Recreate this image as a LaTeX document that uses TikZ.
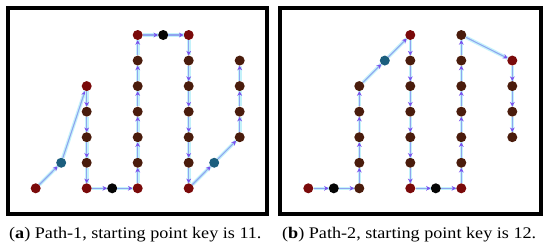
\documentclass[tikz,border=0pt]{standalone}
\usepackage{graphicx}
\usepackage{fontspec}
\setmainfont{Liberation Serif}
\usetikzlibrary{arrows.meta}
\definecolor{nred}{HTML}{7A0A0A}
\definecolor{nbrown}{HTML}{4A1C0C}
\definecolor{nblue}{HTML}{1B5E7E}
\definecolor{nblack}{HTML}{050505}
\definecolor{eline}{HTML}{8FA4F0}
\definecolor{eband}{HTML}{C4F2FA}
\definecolor{etip}{HTML}{7A50EE}
\tikzset{
  pt/.style={circle, inner sep=0pt, minimum size=10pt, draw=none},
  edge/.style={preaction={draw=eband, line width=3.6pt, -}, draw=eline, line width=1.1pt,
    -{Stealth[length=4.5pt,width=4.8pt,color=etip]}},
  frame/.style={draw=black, line width=4pt},
  captext/.style={anchor=base west, inner sep=0pt, font=\fontsize{16.2}{18}\selectfont}
}
\newcommand{\capscale}[1]{\scalebox{1.12}[1]{#1}}
\begin{document}
\begin{tikzpicture}[x=1pt,y=-1pt]
\useasboundingbox (0,0) rectangle (550,250);
\draw[frame] (8,8) rectangle (266.5,214);
\draw[frame] (280.3,8) rectangle (540.5,214);
% left panel nodes
\foreach \k/\j/\c in {0/0/nred,1/1/nblue,2/4/nred,2/3/nbrown,2/2/nbrown,2/1/nbrown,2/0/nred,
  3/0/nblack,4/0/nred,4/1/nbrown,4/2/nbrown,4/3/nbrown,4/4/nbrown,4/5/nbrown,4/6/nred,
  5/6/nblack,6/6/nred,6/5/nbrown,6/4/nbrown,6/3/nbrown,6/2/nbrown,6/1/nbrown,6/0/nred,
  7/1/nblue,8/2/nbrown,8/3/nbrown,8/4/nbrown,8/5/nbrown}
  \node[pt, fill=\c] (a\k\j) at ({35.7+25.5*\k},{188.3-25.55*\j}) {};
% right panel nodes
\foreach \k/\j/\c in {0/0/nred,1/0/nblack,2/0/nbrown,2/1/nbrown,2/2/nbrown,2/3/nbrown,2/4/nbrown,
  3/5/nblue,4/6/nred,4/5/nbrown,4/4/nbrown,4/3/nbrown,4/2/nbrown,4/1/nbrown,4/0/nred,
  5/0/nblack,6/0/nred,6/1/nbrown,6/2/nbrown,6/3/nbrown,6/4/nbrown,6/5/nbrown,6/6/nbrown,
  8/5/nred,8/4/nbrown,8/3/nbrown,8/2/nbrown}
  \node[pt, fill=\c] (b\k\j) at ({308.3+25.5*\k},{188.3-25.55*\j}) {};
% left panel edges
\foreach \u/\v in {a00/a11,a11/a24,a24/a23,a23/a22,a22/a21,a21/a20,a20/a30,a30/a40,
  a40/a41,a41/a42,a42/a43,a43/a44,a44/a45,a45/a46,a46/a56,a56/a66,
  a66/a65,a65/a64,a64/a63,a63/a62,a62/a61,a61/a60,a60/a71,a71/a82,
  a82/a83,a83/a84,a84/a85}
  \draw[edge] (\u) -- (\v);
% right panel edges
\foreach \u/\v in {b00/b10,b10/b20,b20/b21,b21/b22,b22/b23,b23/b24,b24/b35,b35/b46,
  b46/b45,b45/b44,b44/b43,b43/b42,b42/b41,b41/b40,b40/b50,b50/b60,
  b60/b61,b61/b62,b62/b63,b63/b64,b64/b65,b65/b66,b66/b85,
  b85/b84,b84/b83,b83/b82}
  \draw[edge] (\u) -- (\v);
% captions
\node[captext] (capa) at (9,238.7) {\capscale{(\textbf{a}) Path-1, starting point key is 11.}};
\node[captext] (capb) at (282,238.7) {\capscale{(\textbf{b}) Path-2, starting point key is 12.}};
\end{tikzpicture}
\end{document}
